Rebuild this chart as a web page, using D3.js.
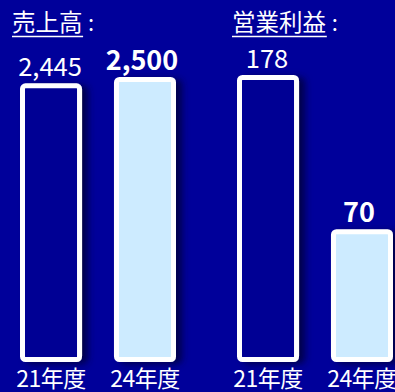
<!DOCTYPE html>
<html>
<head>
<meta charset="utf-8">
<script src="https://cdn.jsdelivr.net/npm/d3@7"></script>
<style>
  html, body { margin: 0; padding: 0; background: #00009a; }
  svg { display: block; }
  text { font-family: "Noto Sans CJK JP", "Noto Sans", sans-serif; fill: #fff; }
</style>
</head>
<body>
<div id="chart"></div>
<script>
const categories = ["21年度", "24年度"];
const sales = [2445, 2500];
const profit = [178, 70];
const titles = ["売上高", "営業利益"];
const salesLabels = ["2,445", "2,500"];
const profitLabels = ["178", "70"];

const width = 395;
const height = 392;
const base = 362;

const svg = d3.select("#chart")
  .append("svg")
  .attr("width", width)
  .attr("height", height);

svg.append("rect")
  .attr("width", width)
  .attr("height", height)
  .attr("fill", "#00009a");

const defs = svg.append("defs");
const f = defs.append("filter").attr("id", "shadow")
  .attr("x", "-20%").attr("y", "-20%").attr("width", "160%").attr("height", "140%");
f.append("feDropShadow")
  .attr("dx", 6).attr("dy", 2)
  .attr("stdDeviation", 3.5)
  .attr("flood-color", "#000030")
  .attr("flood-opacity", 0.75);

const fills = ["#000094", "#cdebff"];

const panels = [
  {title: titles[0], values: sales, labels: salesLabels, x0: 20, x1: 176, yMin: 0, yMax: 2500, top: 77, titleX: 12},
  {title: titles[1], values: profit, labels: profitLabels, x0: 237, x1: 393, yMin: -23, yMax: 178, top: 75, titleX: 232}
];

panels.forEach(p => {
  const g = svg.append("g");

  const x = d3.scaleBand()
    .domain(categories)
    .range([p.x0, p.x1])
    .paddingInner(0.34)
    .paddingOuter(0);

  const y = d3.scaleLinear()
    .domain([p.yMin, p.yMax])
    .range([base, p.top]);

  // title with underline
  g.append("text")
    .attr("x", p.titleX)
    .attr("y", 31)
    .attr("font-size", 23.5)
    .text(p.title);
  const tw = p.title.length * 23.7;
  g.append("text")
    .attr("x", p.titleX + tw + 5)
    .attr("y", 31)
    .attr("font-size", 22)
    .text(":");
  g.append("line")
    .attr("x1", p.titleX).attr("x2", p.titleX + tw)
    .attr("y1", 36.5).attr("y2", 36.5)
    .attr("stroke", "#fff")
    .attr("stroke-width", 1.3);

  const sw = 5;
  g.selectAll("rect.bar")
    .data(p.values)
    .join("rect")
    .attr("class", "bar")
    .attr("x", (d, i) => x(categories[i]) + sw / 2)
    .attr("y", d => y(d) + sw / 2)
    .attr("width", x.bandwidth() - sw)
    .attr("height", d => base - y(d) - sw)
    .attr("rx", 3)
    .attr("fill", (d, i) => fills[i])
    .attr("stroke", "#fff")
    .attr("stroke-width", sw)
    .attr("filter", "url(#shadow)");

  g.selectAll("text.val")
    .data(p.values)
    .join("text")
    .attr("class", "val")
    .attr("x", (d, i) => x(categories[i]) + x.bandwidth() / 2 - (i === 0 ? 1 : 3))
    .attr("y", d => y(d) - 7)
    .attr("text-anchor", "middle")
    .attr("font-size", (d, i) => i === 1 ? 27 : 25.5)
    .attr("font-weight", (d, i) => i === 1 ? "bold" : "normal")
    .text((d, i) => p.labels[i]);

  g.selectAll("text.cat")
    .data(categories)
    .join("text")
    .attr("class", "cat")
    .attr("x", d => x(d) + x.bandwidth() / 2)
    .attr("y", 387)
    .attr("text-anchor", "middle")
    .attr("font-size", 23)
    .attr("letter-spacing", -0.5)
    .text(d => d);
});
</script>
</body>
</html>
